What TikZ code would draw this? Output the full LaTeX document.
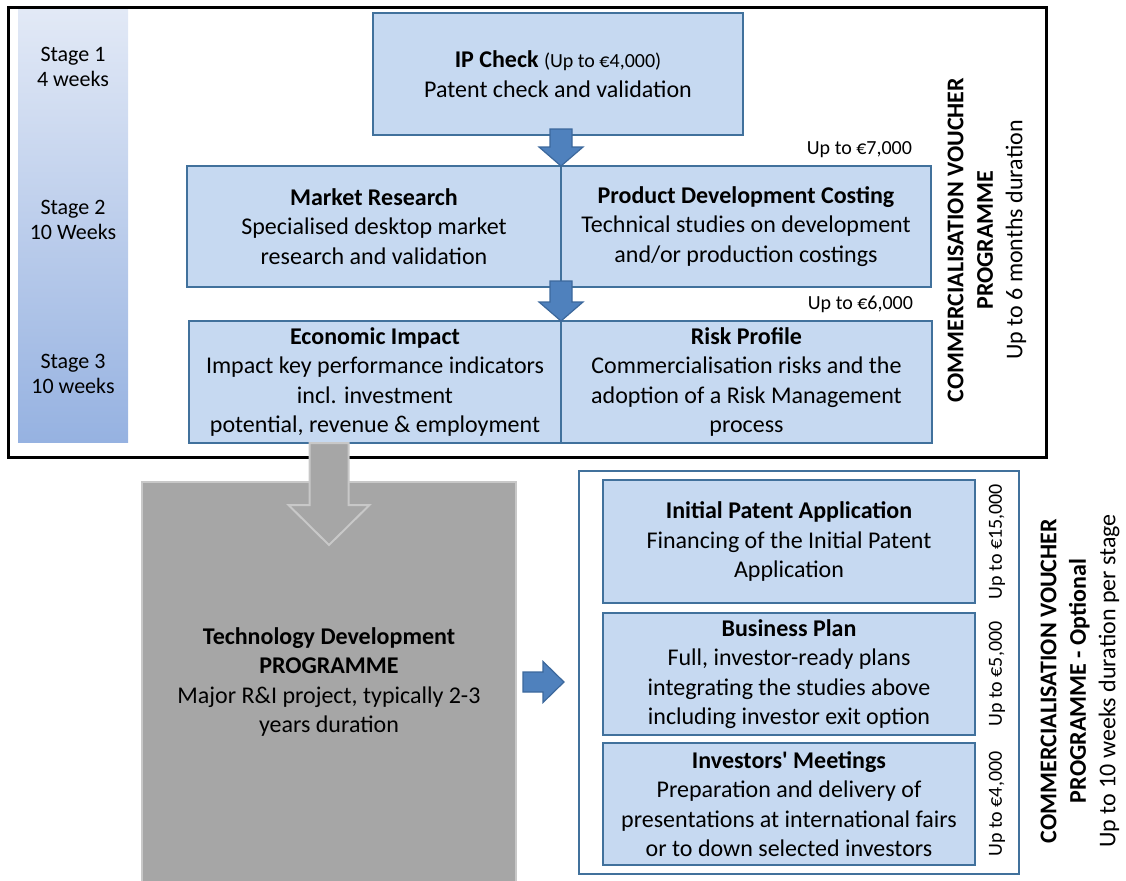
\documentclass[tikz,border=0pt]{standalone}
\usepackage{fontspec}
\setmainfont{Carlito}
\usetikzlibrary{positioning}

\definecolor{boxfill}{RGB}{198,217,241}
\definecolor{boxline}{RGB}{65,113,156}
\definecolor{arrowfill}{RGB}{79,129,189}
\definecolor{arrowline}{RGB}{60,104,156}
\definecolor{greyfill}{RGB}{166,166,166}
\definecolor{greyline}{RGB}{200,200,200}
\definecolor{stagetop}{RGB}{226,233,246}
\definecolor{stagebot}{RGB}{150,178,225}

\begin{document}
\begin{tikzpicture}[x=1pt, y=-1pt,
    every node/.style={font=\fontsize{24}{29.5}\selectfont, align=center, inner sep=0pt, outer sep=0pt},
    vbox/.style={draw=boxline, fill=boxfill, line width=2.2pt},
    stagelabel/.style={font=\fontsize{22}{25}\selectfont},
    costlabel/.style={font=\fontsize{20}{24}\selectfont},
    bluearrow/.style={draw=arrowline, fill=arrowfill, line width=1.2pt, line join=miter},
    greyarrow/.style={draw=greyline, fill=greyfill, line width=2pt, line join=miter}]
  \useasboundingbox (0,0) rectangle (1126,880);

  % stage column
  \shade[top color=stagetop, bottom color=stagebot] (18,10) rectangle (128,442);
  \node[stagelabel] (s1) at (73,67) {Stage 1\\4 weeks};
  \node[stagelabel] (s2) at (73,220) {Stage 2\\10 Weeks};
  \node[stagelabel] (s3) at (73,374) {Stage 3\\10 weeks};

  % voucher stages
  \node[vbox, minimum width=370, minimum height=122] (ip) at (558,74)
    {\textbf{IP Check} {\fontsize{20}{24}\selectfont (Up to €4,000)}\\Patent check and validation};

  \node[vbox, minimum width=374, minimum height=121] (mr) at (374,226.5)
    {\textbf{Market Research}\\Specialised desktop market\\research and validation};
  \node[vbox, minimum width=370, minimum height=121, right=0pt of mr] (pd)
    {\textbf{Product Development Costing}\\Technical studies on development\\and/or production costings};

  \node[vbox, minimum width=372, minimum height=122] (ei) at (375,382)
    {\textbf{Economic Impact}\\Impact key performance indicators\\incl. investment\\potential, revenue \& employment};
  \node[vbox, minimum width=371, minimum height=122, right=0pt of ei] (rp)
    {\textbf{Risk Profile}\\Commercialisation risks and the\\adoption of a Risk Management\\process};

  \node[costlabel, above left=8pt and 19pt of pd.north east] (c7) {Up to €7,000};
  \node[costlabel, above left=8pt and 19pt of rp.north east] (c6) {Up to €6,000};

  \node[rotate=90] (cvp) at (987,240)
    {\textbf{COMMERCIALISATION VOUCHER}\\\textbf{PROGRAMME}\\Up to 6 months duration};

  \draw[line width=3pt] (8,8) rectangle (1046,457);

  \foreach \src/\dst in {ip/mr, mr/ei}{
    \coordinate (top) at (\src.south -| mr.east);
    \coordinate (tip) at (\dst.north -| mr.east);
    \draw[bluearrow] ([shift={(-11,-6)}]top) -- ([shift={(11,-6)}]top)
      -- ([shift={(11,-19)}]tip) -- ([shift={(22,-19)}]tip) -- (tip)
      -- ([shift={(-22,-19)}]tip) -- ([shift={(-11,-19)}]tip) -- cycle;
  }

  % technology development
  \node[draw=greyline, fill=greyfill, line width=2pt, minimum width=374, minimum height=400] (tdp) at (329,682)
    {\textbf{Technology Development}\\\textbf{PROGRAMME}\\Major R\&I project, typically 2-3\\years duration};

  \coordinate (gtop) at (tdp.north |- ei.south);
  \coordinate (gtip) at ([yshift=-63pt]tdp.north);
  \draw[greyarrow] ([shift={(-19.5,0)}]gtop) -- ([shift={(19.5,0)}]gtop)
    -- ([shift={(19.5,-40)}]gtip) -- ([shift={(40.5,-40)}]gtip) -- (gtip)
    -- ([shift={(-40.5,-40)}]gtip) -- ([shift={(-19.5,-40)}]gtip) -- cycle;

  % optional stages
  \node[draw=boxline, line width=2pt, minimum width=440, minimum height=403] (opt) at (799,672.5) {};

  \node[vbox, minimum width=372, minimum height=123] (ipa) at (789,541.5)
    {\textbf{Initial Patent Application}\\Financing of the Initial Patent\\Application};
  \node[vbox, minimum width=372, minimum height=122] (bp) at (789,674)
    {\textbf{Business Plan}\\Full, investor-ready plans\\integrating the studies above\\including investor exit option};
  \node[vbox, minimum width=372, minimum height=122] (im) at (789,804)
    {\textbf{Investors\textquotesingle\ Meetings}\\Preparation and delivery of\\presentations at international fairs\\or to down selected investors};

  \node[costlabel, rotate=90] (c15) at ([xshift=22pt]ipa.east) {Up to €15,000};
  \node[costlabel, rotate=90] (c5) at ([xshift=22pt]bp.east) {Up to €5,000};
  \node[costlabel, rotate=90] (c4) at ([xshift=22pt]im.east) {Up to €4,000};

  \node[rotate=90] (cvo) at (1080,681)
    {\textbf{COMMERCIALISATION VOUCHER}\\\textbf{PROGRAMME - Optional}\\Up to 10 weeks duration per stage};

  \coordinate (rs) at ([xshift=7pt]tdp.east);
  \coordinate (rt) at (opt.west |- tdp.east);
  \draw[bluearrow] ([shift={(0,-10)}]rs) -- ([shift={(20,-10)}]rs) -- ([shift={(20,-20.5)}]rs)
    -- ([xshift=-15pt]rt) -- ([shift={(20,20.5)}]rs) -- ([shift={(20,10)}]rs) -- ([shift={(0,10)}]rs) -- cycle;
\end{tikzpicture}
\end{document}
